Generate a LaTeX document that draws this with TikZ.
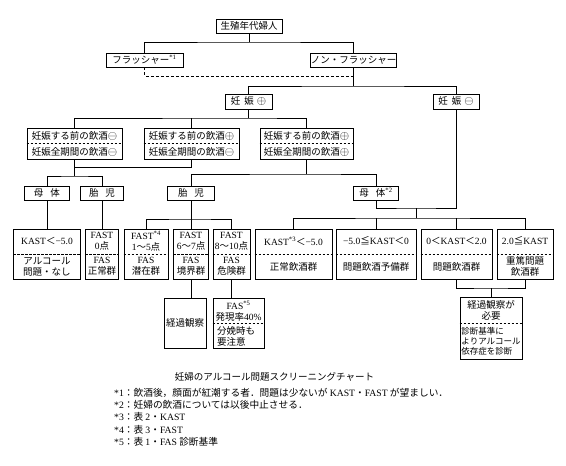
\documentclass[tikz,border=0pt]{standalone}
\usepackage{fontspec}
\setmainfont{Liberation Serif}
\newfontfamily\jp{Noto Sans CJK JP}
\newcommand\lt[1]{{\rmfamily #1}}
\newcommand\sq[1]{\textsuperscript{\rmfamily #1}}
\newcommand\opl{{\fontsize{11.5}{11}\selectfont$\oplus$}}
\newcommand\omi{{\fontsize{11.5}{11}\selectfont$\ominus$}}
\begin{document}
\begin{tikzpicture}[x=1pt,y=-1pt,
  box/.style={draw,line width=0.7pt,inner sep=0pt,rectangle},
  txt/.style={inner sep=0pt,align=center,font=\jp\fontsize{9.5}{11}\selectfont},
  small/.style={inner sep=0pt,align=left,font=\jp\fontsize{8.5}{10}\selectfont},
  conn/.style={line width=0.9pt},
  dsh/.style={line width=0.5pt,dash pattern=on 2.5pt off 1.5pt},
  note/.style={inner sep=0pt,anchor=west,font=\jp\fontsize{9.7}{10}\selectfont}]
\fill[white] (0,0) rectangle (566,466);
\useasboundingbox (0,0) rectangle (566,466);

% top level
\node[box,txt,minimum width=66pt,minimum height=14pt] (n0) at (249,26) {生殖年代婦人};
\node[box,txt,minimum width=77pt,minimum height=14pt] (nF) at (144.5,60) {フラッシャー\sq{*1}};
\node[box,txt,minimum width=77pt,minimum height=14pt] (nN) at (353.5,60) {ノン・フラッシャー};
\node[box,txt,minimum width=47pt,minimum height=15pt] (nP) at (248.5,101.5) {妊\hspace{4pt}娠\hspace{3pt}\opl};
\node[box,txt,minimum width=46pt,minimum height=15pt] (nM) at (456,101.5) {妊\hspace{4pt}娠\hspace{3pt}\omi};

\coordinate (j0) at (249,42);
\coordinate (jd) at (353.5,76);
\coordinate (j1) at (353.5,86);
\draw[conn] (n0) -- (j0);
\draw[conn] (nF.north) |- (j0) -| (nN.north);
\draw[conn,dashed,dash pattern=on 3pt off 2pt] (nF.south) |- (jd);
\draw[conn] (nN.south) -- (j1);
\draw[conn] (nP.north) |- (j1) -| (nM.north);

% level 3 boxes
\node[box,minimum width=95pt,minimum height=31pt] (b1) at (74.5,143.5) {};
\node[txt] (b1t) at (74.5,135.5) {妊娠する前の飲酒\omi};
\node[txt] (b1b) at (74.5,151.5) {妊娠全期間の飲酒\omi};
\draw[dsh] (b1.west) -- (b1.east);
\node[box,minimum width=95pt,minimum height=31pt] (b2) at (191.5,143.5) {};
\node[txt] (b2t) at (191.5,135.5) {妊娠する前の飲酒\opl};
\node[txt] (b2b) at (191.5,151.5) {妊娠全期間の飲酒\omi};
\draw[dsh] (b2.west) -- (b2.east);
\node[box,minimum width=93pt,minimum height=31pt] (b3) at (306.5,143.5) {};
\node[txt] (b3t) at (306.5,135.5) {妊娠する前の飲酒\opl};
\node[txt] (b3b) at (306.5,151.5) {妊娠全期間の飲酒\opl};
\draw[dsh] (b3.west) -- (b3.east);

\coordinate (j2) at (248.5,118);
\draw[conn] (nP) -- (j2);
\draw[conn] (b1.north) |- (j2) -| (b3.north);
\draw[conn] (b2.north) -- (b2.north |- j2);

% level 4
\node[box,txt,minimum width=45pt,minimum height=14pt] (m1) at (47,193) {母\hspace{7pt}体};
\node[box,txt,minimum width=43pt,minimum height=14pt] (c1) at (102,193) {胎\hspace{7pt}児};
\node[box,txt,minimum width=47pt,minimum height=14pt] (c2) at (191,193) {胎\hspace{7pt}児};
\node[box,txt,minimum width=45pt,minimum height=14pt] (m2) at (376,193) {母\hspace{7pt}体\sq{*2}};

\coordinate (j3) at (74.5,167);
\coordinate (j4) at (74.5,176);
\coordinate (j5) at (306.5,174);
\draw[conn] (b1.south) -- (j4);
\draw[conn] (b2.south) |- (j3);
\draw[conn] (m1.north) |- (j4) -| (c1.north);
\draw[conn] (b3.south) -- (j5);
\draw[conn] (c2.north) |- (j5) -| (m2.north);

\coordinate (j7) at (416,208);
\coordinate (j8) at (416,218);
\draw[conn] (m2.south) |- (j7) -| (nM.south);
\draw[conn] (j7) -- (j8);

% left bottom boxes
\node[box,minimum width=67pt,minimum height=50pt] (a1) at (47,254) {};
\node[txt] (a1t) at (47,241) {\lt{KAST}＜\lt{−5.0}};
\node[txt] (a1b) at (47,266.5) {アルコール\\問題・なし};
\draw[dsh] (a1.west) -- (a1.east);
\node[box,minimum width=33pt,minimum height=50pt] (a2) at (102,254) {};
\node[txt] (a2t) at (102,241) {\lt{FAST}\\\lt{0}点};
\node[txt] (a2b) at (102,266.5) {\lt{FAS}\\正常群};
\draw[dsh] (a2.west) -- (a2.east);
\draw[conn] (m1.south) -- (a1.north);
\draw[conn] (c1.south) -- (a2.north);

\node[box,minimum width=44pt,minimum height=50pt] (f1) at (146,254) {};
\node[txt] (f1t) at (146,241) {\lt{FAST}\sq{*4}\\\lt{1}～\lt{5}点};
\node[txt] (f1b) at (146,266.5) {\lt{FAS}\\潜在群};
\draw[dsh] (f1.west) -- (f1.east);
\node[box,minimum width=35pt,minimum height=50pt] (f2) at (191,254) {};
\node[txt] (f2t) at (191,241) {\lt{FAST}\\\lt{6}～\lt{7}点};
\node[txt] (f2b) at (191,266.5) {\lt{FAS}\\境界群};
\draw[dsh] (f2.west) -- (f2.east);
\node[box,minimum width=37pt,minimum height=50pt] (f3) at (231.5,254) {};
\node[txt] (f3t) at (231.5,241) {\lt{FAST}\\\lt{8}～\lt{10}点};
\node[txt] (f3b) at (231.5,266.5) {\lt{FAS}\\危険群};
\draw[dsh] (f3.west) -- (f3.east);

\coordinate (j10) at (191,219);
\draw[conn] (c2.south) -- (j10);
\draw[conn] (f1.north) |- (j10) -| (f3.north);
\draw[conn] (f2.north) -- (j10);

\node[box,txt,minimum width=42pt,minimum height=50pt] (o1) at (185,323) {経過観察};
\node[box,minimum width=51pt,minimum height=50pt] (o2) at (238.5,323) {};
\node[txt] (o2t) at (238.5,311) {\lt{FAS}\sq{*5}\\発現率\lt{40\%}};
\node[txt,align=left] (o2b) at (236,336) {分娩時も\\要注意};
\draw[dsh] (o2.west) -- (o2.east);
\draw[conn] (f2.south) -- (f2.south |- o1.north);
\draw[conn] (f3.south) -- (f3.south |- o2.north);

% right bottom boxes
\node[box,minimum width=77pt,minimum height=50pt] (k1) at (293.5,254) {};
\node[txt] (k1t) at (293.5,241) {\lt{KAST}\sq{*3}＜\lt{−5.0}};
\node[txt] (k1b) at (293.5,266.5) {正常飲酒群};
\draw[dsh] (k1.west) -- (k1.east);
\node[box,minimum width=80pt,minimum height=50pt] (k2) at (376,254) {};
\node[txt] (k2t) at (376,241) {\lt{−5.0}≦\lt{KAST}＜\lt{0}};
\node[txt] (k2b) at (376,266.5) {問題飲酒予備群};
\draw[dsh] (k2.west) -- (k2.east);
\node[box,minimum width=71pt,minimum height=50pt] (k3) at (456.5,254) {};
\node[txt] (k3t) at (456.5,241) {\lt{0}＜\lt{KAST}＜\lt{2.0}};
\node[txt] (k3b) at (456.5,266.5) {問題飲酒群};
\draw[dsh] (k3.west) -- (k3.east);
\node[box,minimum width=56pt,minimum height=50pt] (k4) at (525,254) {};
\node[txt] (k4t) at (525,241) {\lt{2.0}≦\lt{KAST}};
\node[txt] (k4b) at (525,266.5) {重篤問題\\飲酒群};
\draw[dsh] (k4.west) -- (k4.east);

\draw[conn] (k1.north) |- (j8) -| (k4.north);
\draw[conn] (k2.north) -- (k2.north |- j8);
\draw[conn] (k3.north) -- (k3.north |- j8);

\node[box,minimum width=62pt,minimum height=62pt] (g) at (491,328) {};
\node[txt] (gt) at (491,310) {経過観察が\\必要};
\node[small] (gb) at (491,341) {診断基準に\\よりアルコール\\依存症を診断};
\draw[dsh] ([yshift=5pt]g.west) -- ([yshift=5pt]g.east);
\coordinate (j9) at (491,288);
\draw[conn] (k3.south) |- (j9) -| (k4.south);
\draw[conn] (j9) -- (g.north);

% caption and notes
\node[inner sep=0pt,font=\jp\fontsize{9.5}{10}\selectfont] (cap) at (274.5,377) {妊婦のアルコール問題スクリーニングチャート};
\node[note] (fn1) at (114,393) {\lt{*1}：飲酒後，顔面が紅潮する者．問題は少ないが \lt{KAST}・\lt{FAST} が望ましい．};
\node[note] (fn2) at (114,405) {\lt{*2}：妊婦の飲酒については以後中止させる．};
\node[note] (fn3) at (114,417) {\lt{*3}：表 \lt{2}・\lt{KAST}};
\node[note] (fn4) at (114,429.5) {\lt{*4}：表 \lt{3}・\lt{FAST}};
\node[note] (fn5) at (114,442) {\lt{*5}：表 \lt{1}・\lt{FAS} 診断基準};
\end{tikzpicture}
\end{document}
